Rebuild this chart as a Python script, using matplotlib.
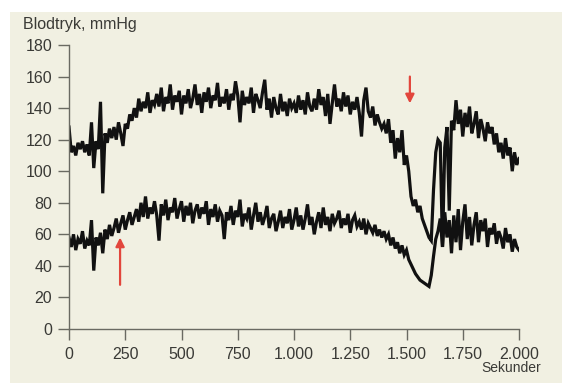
import numpy as np
import matplotlib.pyplot as plt
from matplotlib.patches import Rectangle
from matplotlib.ticker import FuncFormatter

# time grid in seconds (one reading every 10 s)
seconds = np.arange(0, 2001, 10)

# upper trace (systolic), mmHg
upper = [
    128, 112, 116, 110, 118, 114, 119, 112, 117, 110,
    131, 102, 119, 114, 144, 86, 124, 118, 127, 121,
    128, 120, 131, 124, 116, 130, 127, 136, 132, 140,
    134, 146, 138, 144, 140, 150, 137, 145, 142, 149,
    141, 153, 138, 147, 143, 155, 139, 148, 144, 151,
    136, 148, 143, 152, 140, 146, 155, 142, 149, 137,
    150, 144, 153, 140, 148, 145, 156, 141, 147, 143,
    152, 139, 149, 145, 157, 148, 131, 151, 142, 147,
    143, 153, 137, 149, 145, 140, 150, 158, 139, 146,
    134, 147, 140, 136, 149, 138, 144, 135, 146, 140,
    143, 137, 148, 139, 145, 136, 150, 141, 138, 146,
    139, 152, 142, 147, 135, 149, 130, 143, 155, 141,
    146, 138, 150, 141, 148, 136, 144, 139, 147, 137,
    122, 145, 153, 138, 134, 141, 129, 136, 131, 127,
    130, 124, 133, 118, 126, 108, 121, 112, 126, 104,
    110, 100, 84, 78, 82, 74, 78, 70, 66, 62,
    58, 56, 88, 112, 120, 118, 52, 115, 128, 75,
    132, 126, 145, 130, 139, 122, 137, 128, 141, 124,
    130, 138, 121, 133, 127, 119, 131, 124, 128, 117,
    124, 112, 118, 108, 121, 110, 115, 100, 112, 104,
    108,
]

# lower trace (diastolic), mmHg
lower = [
    58, 52, 60, 50, 57, 54, 62, 51, 56, 53,
    69, 37, 58, 53, 61, 48, 63, 57, 66, 59,
    64, 70, 61, 67, 72, 63, 69, 74, 66, 71,
    76, 68, 80, 71, 84, 70, 77, 73, 81, 72,
    56, 79, 72, 82, 69, 77, 74, 83, 70, 76,
    81, 68, 78, 72, 80, 67, 75, 79, 70, 77,
    73, 81, 66, 76, 71, 79, 68, 75, 72, 57,
    74, 69, 78, 66, 75, 71, 82, 65, 73, 70,
    77, 63, 72, 80, 68, 74, 66, 71, 78, 64,
    70, 73, 62, 68, 75, 64, 71, 67, 76, 63,
    69, 77, 65, 72, 63, 70, 79, 66, 71, 60,
    68, 74, 64, 77, 66, 71, 62, 73, 67, 70,
    75, 64, 70, 66, 73, 61, 69, 72, 65, 68,
    63, 70, 60, 67, 64, 61, 66, 59, 63, 58,
    62, 57, 60, 53, 58, 51, 55, 48, 53, 47,
    50, 44, 41, 38, 35, 33, 31, 30, 29, 28,
    27, 34, 46, 57, 62, 70, 52, 74, 58, 69,
    48, 72, 55, 76, 50, 68, 79, 57, 71, 53,
    66, 74, 55, 69, 62, 70, 52, 64, 60, 67,
    54, 62, 58, 51, 64, 55, 60, 49, 57, 52,
    50,
]

x_ticks = [0, 250, 500, 750, 1000, 1250, 1500, 1750, 2000]
y_ticks = [0, 20, 40, 60, 80, 100, 120, 140, 160, 180]

# red arrows: (x, tail y, head y)
arrow_down = (1515, 160, 143)
arrow_up = (227, 28, 58)

plt.rcParams['font.family'] = ['Liberation Sans', 'DejaVu Sans']

paper = '#f1f0e2'
ink = '#3a3a36'
axis_col = '#6a6a62'
red = '#e2463c'

fig = plt.figure(figsize=(5.62, 3.83), dpi=100, facecolor='white')
# beige scanned page, white strip at left and top
fig.patches.append(Rectangle((10 / 562, 0), 1, 371 / 383, transform=fig.transFigure,
                             facecolor=paper, edgecolor='none', zorder=-10))

ax = fig.add_axes([69 / 562, 54 / 383, 450 / 562, 284 / 383])
ax.set_zorder(2)
ax.patch.set_visible(False)

ax.plot(seconds, upper, color='#111111', lw=2.3, solid_joinstyle='miter')
ax.plot(seconds, lower, color='#111111', lw=2.3, solid_joinstyle='miter')

ax.set_xlim(0, 2000)
ax.set_ylim(0, 180)
ax.set_xticks(x_ticks)
ax.set_yticks(y_ticks)
ax.xaxis.set_major_formatter(FuncFormatter(lambda v, p: f'{int(v):,}'.replace(',', '.')))

for side in ('top', 'right'):
    ax.spines[side].set_visible(False)
for side in ('left', 'bottom'):
    ax.spines[side].set_color(axis_col)
    ax.spines[side].set_linewidth(1.0)
ax.tick_params(axis='both', colors=axis_col, labelcolor=ink, labelsize=11.5,
               length=8, width=1.0, direction='out')
ax.tick_params(axis='y', pad=4)
ax.tick_params(axis='x', pad=5)

for x, y0, y1 in (arrow_down, arrow_up):
    ax.annotate('', xy=(x, y1), xytext=(x, y0),
                arrowprops=dict(arrowstyle='-|>', color=red, lw=1.6,
                                mutation_scale=13, shrinkA=0, shrinkB=0))

fig.text(23 / 562, 1 - 24 / 383, 'Blodtryk, mmHg', color=ink, fontsize=11.5,
         ha='left', va='center')
fig.text(541 / 562, 1 - 368 / 383, 'Sekunder', color=ink, fontsize=10,
         ha='right', va='center')

fig.savefig('out.png', dpi=100, facecolor='white')
